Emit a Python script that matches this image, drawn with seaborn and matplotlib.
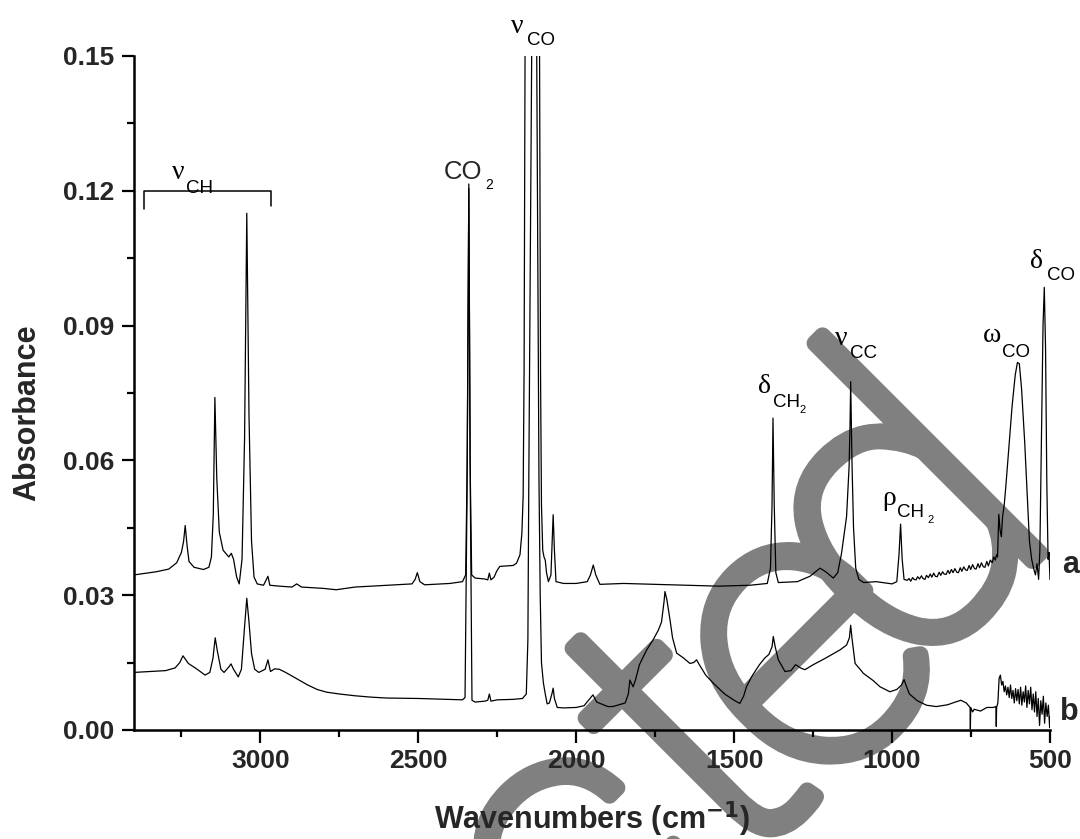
import numpy as np
import pandas as pd
import matplotlib
matplotlib.use("Agg")
import matplotlib.pyplot as plt
import matplotlib.patheffects as pe
from matplotlib.ticker import MultipleLocator, FormatStrFormatter
import seaborn as sns

# ---------------- data ----------------
wn_a = [3400, 3370, 3330, 3290, 3265, 3250, 3243, 3238, 3232, 3226, 3210, 3180, 3163, 3155, 3149, 3144,
        3138, 3130, 3118, 3100, 3092, 3085, 3075, 3067, 3058, 3050, 3043, 3036, 3028, 3020, 3010, 2990,
        2976, 2970, 2940, 2900, 2885, 2870, 2800, 2760, 2700, 2600, 2520, 2510, 2503, 2495, 2480, 2400,
        2360, 2350, 2345, 2340, 2336, 2331, 2320, 2290, 2280, 2275, 2270, 2260, 2252, 2242, 2200, 2189,
        2178, 2172, 2168, 2165, 2162, 2140, 2116, 2113, 2110, 2106, 2102, 2098, 2094, 2088, 2080, 2076,
        2073, 2069, 2064, 2040, 2000, 1965, 1955, 1946, 1938, 1925, 1850, 1750, 1650, 1550, 1450, 1395,
        1385, 1380, 1377, 1373, 1368, 1360, 1300, 1260, 1228, 1210, 1186, 1172, 1160, 1144, 1136, 1133,
        1131, 1127, 1122, 1115, 1105, 1090, 1050, 1000, 985, 978, 973, 968, 962,
        952, 946, 941, 935, 930, 924, 919, 913, 907, 902, 896, 891, 885, 879, 874, 868, 863, 857, 851,
        846, 840, 835, 829, 823, 818, 812, 807, 801, 795, 790, 784, 779, 773, 767, 762, 756, 751, 745,
        739, 734, 728, 723, 717, 711, 706, 700, 695, 689, 683, 678, 673, 669, 666,
        662, 658, 654, 650, 645, 640, 630, 620, 610, 603, 597, 590, 580, 572, 565, 558, 552, 546, 541,
        536, 532, 528, 522, 518, 514, 510, 506, 503, 500]
abs_a = [0.0345, 0.0348, 0.0352, 0.0358, 0.0372, 0.0395, 0.0420, 0.0455, 0.0410, 0.0375, 0.0362, 0.0357,
         0.0362, 0.0385, 0.0480, 0.0740, 0.0560, 0.0440, 0.0400, 0.0385, 0.0393, 0.0380, 0.0340, 0.0325,
         0.0380, 0.0650, 0.1150, 0.0700, 0.0420, 0.0340, 0.0325, 0.0322, 0.0342, 0.0322, 0.0320, 0.0318,
         0.0325, 0.0318, 0.0315, 0.0312, 0.0318, 0.0322, 0.0325, 0.0335, 0.0350, 0.0330, 0.0323, 0.0326,
         0.0330, 0.0345, 0.0600, 0.1215, 0.0600, 0.0345, 0.0338, 0.0336, 0.0334, 0.0349, 0.0334, 0.0340,
         0.0353, 0.0364, 0.0366, 0.0371, 0.0390, 0.0438, 0.0520, 0.0800, 0.1500, 0.3000, 0.1500, 0.0800,
         0.0500, 0.0400, 0.0385, 0.0378, 0.0350, 0.0330, 0.0345, 0.0420, 0.0479, 0.0400, 0.0330, 0.0326,
         0.0326, 0.0330, 0.0345, 0.0367, 0.0345, 0.0324, 0.0326, 0.0324, 0.0322, 0.0320, 0.0322, 0.0326,
         0.0360, 0.0500, 0.0694, 0.0500, 0.0350, 0.0328, 0.0330, 0.0342, 0.0360, 0.0352, 0.0338, 0.0350,
         0.0393, 0.0475, 0.0586, 0.0680, 0.0775, 0.0600, 0.0450, 0.0360, 0.0335, 0.0328, 0.0330, 0.0325,
         0.0330, 0.0390, 0.0458, 0.0380, 0.0335,
         0.0333, 0.0337, 0.0331, 0.0339, 0.0335, 0.0334, 0.0341, 0.0336, 0.0343, 0.0337, 0.0335, 0.0344,
         0.0339, 0.0347, 0.0340, 0.0349, 0.0342, 0.0341, 0.0351, 0.0344, 0.0352, 0.0347, 0.0346, 0.0355,
         0.0348, 0.0357, 0.0350, 0.0359, 0.0351, 0.0350, 0.0361, 0.0353, 0.0363, 0.0356, 0.0355, 0.0366,
         0.0357, 0.0368, 0.0359, 0.0358, 0.0370, 0.0361, 0.0372, 0.0363, 0.0362, 0.0375, 0.0365, 0.0378,
         0.0372, 0.0385, 0.0378, 0.0390, 0.0385,
         0.0480, 0.0445, 0.0430, 0.0475, 0.0500, 0.0540, 0.0630, 0.0720, 0.0790, 0.0818,
         0.0815, 0.0760, 0.0640, 0.0520, 0.0420, 0.0380, 0.0360, 0.0345, 0.0370, 0.0335, 0.0400, 0.0600,
         0.0900, 0.0985, 0.0850, 0.0550, 0.0380, 0.0395, 0.0335]

wn_b = [3400, 3350, 3300, 3270, 3255, 3245, 3238, 3228, 3200, 3175, 3160, 3150, 3143, 3136, 3125, 3115,
        3100, 3093, 3085, 3070, 3060, 3050, 3043, 3036, 3028, 3018, 3005, 2985, 2976, 2968, 2955, 2940,
        2920, 2900, 2880, 2850, 2820, 2790, 2750, 2700, 2650, 2600, 2500, 2400, 2360, 2352, 2346, 2340,
        2335, 2330, 2320, 2290, 2280, 2275, 2270, 2250, 2200, 2170, 2158, 2153, 2150, 2141, 2133, 2125,
        2118, 2114, 2110, 2104, 2098, 2092, 2085, 2077, 2073, 2069, 2060, 2040, 2000, 1975, 1947, 1935,
        1900, 1884, 1845, 1835, 1830, 1820, 1812, 1800, 1777, 1757, 1740, 1730, 1722, 1719, 1713, 1703,
        1695, 1682, 1660, 1640, 1628, 1619, 1610, 1590, 1566, 1530, 1500, 1482, 1470, 1461, 1445, 1434,
        1420, 1403, 1390, 1380, 1376, 1370, 1360, 1339, 1320, 1306, 1302, 1290, 1276, 1250, 1210, 1165,
        1144, 1135, 1131, 1127, 1117, 1100, 1091, 1060, 1038, 1007, 985, 970, 962, 955, 945, 920, 891,
        860, 824, 800, 782, 765, 753, 752, 751, 745, 740, 720, 700, 680, 671, 670, 669, 665, 661, 657,
        653, 649, 645, 641, 637, 633, 629, 625, 621, 617, 613, 609, 605, 601, 597, 593, 589, 585, 581,
        577, 573, 569, 565, 561, 557, 553, 549, 545, 541, 537, 533, 529, 525, 521, 517, 513, 509, 505,
        501, 500]
abs_b = [0.0128, 0.0130, 0.0132, 0.0138, 0.0150, 0.0165, 0.0158, 0.0148, 0.0135, 0.0122, 0.0128, 0.0160,
         0.0205, 0.0175, 0.0135, 0.0128, 0.0140, 0.0147, 0.0135, 0.0118, 0.0135, 0.0230, 0.0293, 0.0240,
         0.0170, 0.0135, 0.0128, 0.0135, 0.0156, 0.0130, 0.0136, 0.0135, 0.0128, 0.0120, 0.0112, 0.0100,
         0.0090, 0.0084, 0.0080, 0.0076, 0.0073, 0.0071, 0.0070, 0.0068, 0.0067, 0.0072, 0.0500, 0.1205,
         0.0500, 0.0066, 0.0062, 0.0064, 0.0066, 0.0080, 0.0064, 0.0067, 0.0068, 0.0070, 0.0080, 0.0200,
         0.0565, 0.1500, 0.3000, 0.1500, 0.0565, 0.0300, 0.0150, 0.0105, 0.0080, 0.0058, 0.0060, 0.0080,
         0.0093, 0.0070, 0.0050, 0.0049, 0.0050, 0.0054, 0.0078, 0.0062, 0.0052, 0.0052, 0.0060, 0.0080,
         0.0111, 0.0096, 0.0112, 0.0145, 0.0178, 0.0200, 0.0222, 0.0240, 0.0285, 0.0308, 0.0290, 0.0245,
         0.0205, 0.0171, 0.0160, 0.0148, 0.0150, 0.0156, 0.0145, 0.0122, 0.0104, 0.0080, 0.0066, 0.0059,
         0.0075, 0.0096, 0.0118, 0.0130, 0.0145, 0.0160, 0.0168, 0.0185, 0.0208, 0.0185, 0.0156, 0.0130,
         0.0132, 0.0145, 0.0144, 0.0138, 0.0134, 0.0145, 0.0160, 0.0178, 0.0189, 0.0205, 0.0233, 0.0205,
         0.0148, 0.0134, 0.0126, 0.0110, 0.0096, 0.0085, 0.0090, 0.0100, 0.0112, 0.0098, 0.0080, 0.0065,
         0.0055, 0.0052, 0.0056, 0.0062, 0.0066, 0.0060, 0.0050, 0.0002, 0.0050, 0.0040, 0.0046, 0.0042,
         0.0050, 0.0050, 0.0052, 0.0008, 0.0050, 0.0060, 0.0115, 0.0122, 0.0100, 0.0108, 0.0085, 0.0098,
         0.0078, 0.0095, 0.0072, 0.0100, 0.0070, 0.0088, 0.0060, 0.0092, 0.0065, 0.0090, 0.0058, 0.0095,
         0.0055, 0.0085, 0.0062, 0.0098, 0.0050, 0.0088, 0.0058, 0.0095, 0.0045, 0.0080, 0.0040, 0.0085,
         0.0030, 0.0070, 0.0010, 0.0065, 0.0035, 0.0075, 0.0015, 0.0060, 0.0030, 0.0055, 0.0005, 0.0030]

x_ticks = [3000, 2500, 2000, 1500, 1000, 500]
y_ticks = [0.00, 0.03, 0.06, 0.09, 0.12, 0.15]

# ---------------- style ----------------
sns.set_theme(style="ticks")
plt.rcParams["font.family"] = ["Liberation Sans", "DejaVu Sans"]

W, H = 1080, 839
fig = plt.figure(figsize=(W / 100, H / 100), dpi=100)
fig.patch.set_facecolor("white")
ax = fig.add_axes([0.1241, 0.130, 0.9722 - 0.1241, 0.9333 - 0.130])
ax.patch.set_alpha(0)

# watermark "Retracted" (behind the traces): thin letters with a thick round stroke
WM = dict(fontsize=295, color="#808080", family="Roboto", fontweight="light", rotation=45,
          rotation_mode="anchor", va="baseline", zorder=-1,
          path_effects=[pe.Stroke(linewidth=12, foreground="#808080", joinstyle="round",
                                  capstyle="round"), pe.Normal()])
fig.text(733.6 / W, 1 - 876.4 / H, "Retrac", ha="right", **WM)
fig.text(733.6 / W, 1 - 876.4 / H, "t", ha="left", **WM)
fig.text(812 / W, 1 - 806.6 / H, "e", ha="left", **WM)
fig.text(905.3 / W, 1 - 687.5 / H, "d", ha="left", **WM)

df_a = pd.DataFrame({"wavenumber": wn_a, "absorbance": abs_a})
df_b = pd.DataFrame({"wavenumber": wn_b, "absorbance": abs_b})
sns.lineplot(data=df_a, x="wavenumber", y="absorbance", color="black", lw=0.9,
             estimator=None, sort=False, ax=ax, legend=False)
sns.lineplot(data=df_b, x="wavenumber", y="absorbance", color="black", lw=0.9,
             estimator=None, sort=False, ax=ax, legend=False)

ax.set_xlim(3400, 500)
ax.set_ylim(0, 0.15)
ax.set_xticks(x_ticks)
ax.set_yticks(y_ticks)
ax.xaxis.set_minor_locator(MultipleLocator(250))
ax.yaxis.set_minor_locator(MultipleLocator(0.015))
ax.yaxis.set_major_formatter(FormatStrFormatter("%.2f"))
sns.despine(ax=ax)
for s in ["left", "bottom"]:
    ax.spines[s].set_linewidth(1.8)
    ax.spines[s].set_color("black")
ax.tick_params(which="major", direction="out", length=9, width=1.6, color="black",
               labelsize=19, pad=5)
ax.tick_params(which="minor", direction="out", length=5, width=1.6, color="black")
for lab in ax.get_xticklabels() + ax.get_yticklabels():
    lab.set_fontweight("bold")

plt.rcParams["mathtext.fontset"] = "custom"
plt.rcParams["mathtext.bf"] = "Liberation Sans:bold"
ax.set_xlabel("Wavenumbers (cm$^{\\mathbf{-1}}$)", fontsize=22, fontweight="bold", labelpad=19)
ax.set_ylabel("Absorbance", fontsize=22, fontweight="bold", labelpad=14)
ax.yaxis.set_label_coords(-0.1, 0.47)

# bracket for nu_CH
ax.plot([3368, 3368, 2966, 2966], [0.1159, 0.12, 0.12, 0.1167], color="black", lw=1.1,
        clip_on=False)

GREEK = dict(fontsize=20, family="Liberation Serif", color="black", ha="left", va="baseline",
             annotation_clip=False)
SUB = dict(fontsize=13.5, family="Liberation Sans", color="black", ha="left", va="baseline",
           textcoords="offset pixels", annotation_clip=False)
SUB2 = dict(SUB, fontsize=8)


def label(wn, a, greek, sub, dx, dy, sub2=None, dx2=0, dy2=0):
    ax.annotate(greek, xy=(wn, a), xytext=(0, 0), textcoords="offset pixels", **GREEK)
    ax.annotate(sub, xy=(wn, a), xytext=(dx, dy), **SUB)
    if sub2:
        ax.annotate(sub2, xy=(wn, a), xytext=(dx2, dy2), **SUB2)


label(3280, 0.1227, "ν", "CH", 14, -14)
label(2207, 0.1551, "ν", "CO", 16, -12)
label(1425, 0.0750, "δ", "CH", 15, -14, "2", 42, -20)
label(1181, 0.0857, "ν", "CC", 15, -13)
label(1032, 0.0501, "ρ", "CH", 15, -12, "2", 45, -18)
label(712.5, 0.0864, "ω", "CO", 19, -15)
label(563.6, 0.1028, "δ", "CO", 17, -12)
ax.annotate("CO", xy=(2419, 0.1226), xytext=(0, 0), textcoords="offset pixels", fontsize=18.5,
            family="Liberation Sans", ha="left", va="baseline", annotation_clip=False)
ax.annotate("2", xy=(2419, 0.1226), xytext=(41, -10), **dict(SUB, fontsize=10))

ax.text(462, 0.0349, "a", fontsize=22, fontweight="bold", ha="left", va="baseline", clip_on=False)
ax.text(469, 0.0022, "b", fontsize=22, fontweight="bold", ha="left", va="baseline", clip_on=False)

fig.savefig("out.png", dpi=100)
